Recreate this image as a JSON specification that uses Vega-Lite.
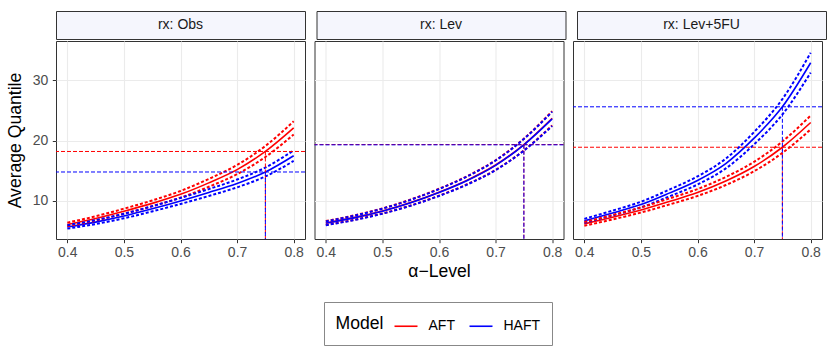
{
  "$schema": "https://vega.github.io/schema/vega-lite/v6.json",
  "padding": {"left": 5, "top": 10, "right": 8, "bottom": 9},
  "background": "white",
  "datasets": {
    "curves": [
      {"rx": "Obs", "model": "AFT", "alpha": 0.40, "q": 6.1, "lo": 5.80, "hi": 6.41},
      {"rx": "Obs", "model": "AFT", "alpha": 0.45, "q": 7.1, "lo": 6.75, "hi": 7.46},
      {"rx": "Obs", "model": "AFT", "alpha": 0.50, "q": 8.3, "lo": 7.89, "hi": 8.72},
      {"rx": "Obs", "model": "AFT", "alpha": 0.55, "q": 9.6, "lo": 9.12, "hi": 10.08},
      {"rx": "Obs", "model": "AFT", "alpha": 0.60, "q": 11.1, "lo": 10.55, "hi": 11.66},
      {"rx": "Obs", "model": "AFT", "alpha": 0.65, "q": 13.0, "lo": 12.35, "hi": 13.65},
      {"rx": "Obs", "model": "AFT", "alpha": 0.70, "q": 15.2, "lo": 14.44, "hi": 15.96},
      {"rx": "Obs", "model": "AFT", "alpha": 0.75, "q": 18.2, "lo": 17.29, "hi": 19.11},
      {"rx": "Obs", "model": "AFT", "alpha": 0.80, "q": 22.1, "lo": 21.0, "hi": 23.2},
      {"rx": "Obs", "model": "HAFT", "alpha": 0.40, "q": 5.7, "lo": 5.42, "hi": 5.99},
      {"rx": "Obs", "model": "HAFT", "alpha": 0.45, "q": 6.5, "lo": 6.18, "hi": 6.83},
      {"rx": "Obs", "model": "HAFT", "alpha": 0.50, "q": 7.5, "lo": 7.13, "hi": 7.88},
      {"rx": "Obs", "model": "HAFT", "alpha": 0.55, "q": 8.7, "lo": 8.27, "hi": 9.14},
      {"rx": "Obs", "model": "HAFT", "alpha": 0.60, "q": 10.0, "lo": 9.5, "hi": 10.5},
      {"rx": "Obs", "model": "HAFT", "alpha": 0.65, "q": 11.4, "lo": 10.83, "hi": 11.97},
      {"rx": "Obs", "model": "HAFT", "alpha": 0.70, "q": 12.9, "lo": 12.26, "hi": 13.55},
      {"rx": "Obs", "model": "HAFT", "alpha": 0.75, "q": 14.8, "lo": 14.06, "hi": 15.54},
      {"rx": "Obs", "model": "HAFT", "alpha": 0.80, "q": 17.5, "lo": 16.63, "hi": 18.38},
      {"rx": "Lev", "model": "AFT", "alpha": 0.40, "q": 6.35, "lo": 6.03, "hi": 6.67},
      {"rx": "Lev", "model": "AFT", "alpha": 0.45, "q": 7.25, "lo": 6.89, "hi": 7.61},
      {"rx": "Lev", "model": "AFT", "alpha": 0.50, "q": 8.35, "lo": 7.93, "hi": 8.77},
      {"rx": "Lev", "model": "AFT", "alpha": 0.55, "q": 9.75, "lo": 9.26, "hi": 10.24},
      {"rx": "Lev", "model": "AFT", "alpha": 0.60, "q": 11.45, "lo": 10.88, "hi": 12.02},
      {"rx": "Lev", "model": "AFT", "alpha": 0.65, "q": 13.45, "lo": 12.78, "hi": 14.12},
      {"rx": "Lev", "model": "AFT", "alpha": 0.70, "q": 15.95, "lo": 15.15, "hi": 16.75},
      {"rx": "Lev", "model": "AFT", "alpha": 0.75, "q": 19.35, "lo": 18.38, "hi": 20.32},
      {"rx": "Lev", "model": "AFT", "alpha": 0.80, "q": 23.7, "lo": 22.52, "hi": 24.89},
      {"rx": "Lev", "model": "HAFT", "alpha": 0.40, "q": 6.3, "lo": 5.99, "hi": 6.62},
      {"rx": "Lev", "model": "HAFT", "alpha": 0.45, "q": 7.2, "lo": 6.84, "hi": 7.56},
      {"rx": "Lev", "model": "HAFT", "alpha": 0.50, "q": 8.3, "lo": 7.89, "hi": 8.72},
      {"rx": "Lev", "model": "HAFT", "alpha": 0.55, "q": 9.7, "lo": 9.22, "hi": 10.19},
      {"rx": "Lev", "model": "HAFT", "alpha": 0.60, "q": 11.4, "lo": 10.83, "hi": 11.97},
      {"rx": "Lev", "model": "HAFT", "alpha": 0.65, "q": 13.4, "lo": 12.73, "hi": 14.07},
      {"rx": "Lev", "model": "HAFT", "alpha": 0.70, "q": 15.9, "lo": 15.11, "hi": 16.7},
      {"rx": "Lev", "model": "HAFT", "alpha": 0.75, "q": 19.3, "lo": 18.34, "hi": 20.27},
      {"rx": "Lev", "model": "HAFT", "alpha": 0.80, "q": 23.6, "lo": 22.42, "hi": 24.78},
      {"rx": "Lev+5FU", "model": "AFT", "alpha": 0.40, "q": 6.2, "lo": 5.89, "hi": 6.51},
      {"rx": "Lev+5FU", "model": "AFT", "alpha": 0.45, "q": 7.3, "lo": 6.94, "hi": 7.67},
      {"rx": "Lev+5FU", "model": "AFT", "alpha": 0.50, "q": 8.5, "lo": 8.08, "hi": 8.93},
      {"rx": "Lev+5FU", "model": "AFT", "alpha": 0.55, "q": 9.9, "lo": 9.41, "hi": 10.4},
      {"rx": "Lev+5FU", "model": "AFT", "alpha": 0.60, "q": 11.4, "lo": 10.83, "hi": 11.97},
      {"rx": "Lev+5FU", "model": "AFT", "alpha": 0.65, "q": 13.3, "lo": 12.64, "hi": 13.97},
      {"rx": "Lev+5FU", "model": "AFT", "alpha": 0.70, "q": 15.7, "lo": 14.92, "hi": 16.49},
      {"rx": "Lev+5FU", "model": "AFT", "alpha": 0.75, "q": 18.9, "lo": 17.96, "hi": 19.85},
      {"rx": "Lev+5FU", "model": "AFT", "alpha": 0.80, "q": 23.0, "lo": 21.85, "hi": 24.15},
      {"rx": "Lev+5FU", "model": "HAFT", "alpha": 0.40, "q": 6.7, "lo": 6.37, "hi": 7.04},
      {"rx": "Lev+5FU", "model": "HAFT", "alpha": 0.45, "q": 8.0, "lo": 7.6, "hi": 8.4},
      {"rx": "Lev+5FU", "model": "HAFT", "alpha": 0.50, "q": 9.4, "lo": 8.93, "hi": 9.87},
      {"rx": "Lev+5FU", "model": "HAFT", "alpha": 0.55, "q": 11.3, "lo": 10.74, "hi": 11.87},
      {"rx": "Lev+5FU", "model": "HAFT", "alpha": 0.60, "q": 13.4, "lo": 12.73, "hi": 14.07},
      {"rx": "Lev+5FU", "model": "HAFT", "alpha": 0.65, "q": 16.2, "lo": 15.39, "hi": 17.01},
      {"rx": "Lev+5FU", "model": "HAFT", "alpha": 0.70, "q": 20.4, "lo": 19.38, "hi": 21.42},
      {"rx": "Lev+5FU", "model": "HAFT", "alpha": 0.75, "q": 25.6, "lo": 24.32, "hi": 26.88},
      {"rx": "Lev+5FU", "model": "HAFT", "alpha": 0.80, "q": 32.9, "lo": 31.26, "hi": 34.55}
    ]
  },
  "data": {"name": "curves"},
  "config": {
    "font": "Liberation Sans",
    "view": {"stroke": "#333333", "strokeWidth": 1},
    "axis": {
      "domain": false,
      "gridColor": "#EBEBEB",
      "gridWidth": 1.1,
      "tickColor": "#333333",
      "tickSize": 3.7,
      "tickWidth": 1,
      "labelColor": "#4D4D4D",
      "labelFontSize": 14,
      "labelPadding": 3,
      "titleFontWeight": "normal",
      "titleFontSize": 17.6,
      "titleColor": "#000000"
    },
    "legend": {
      "orient": "none",
      "legendX": 268,
      "legendY": 291,
      "direction": "horizontal",
      "titleOrient": "left",
      "titleFontWeight": "normal",
      "titleFontSize": 17.6,
      "titleColor": "#000000",
      "titlePadding": 10,
      "labelFontSize": 14,
      "labelColor": "#000000",
      "labelOffset": 10,
      "symbolType": "stroke",
      "symbolSize": 529,
      "symbolStrokeWidth": 1.6,
      "columnPadding": 10,
      "strokeColor": "#888888",
      "fillColor": "white",
      "padding": 11.5
    }
  },
  "spacing": 0,
  "vconcat": [
    {
      "spacing": 9.5,
      "data": {"values": [{"lab": "rx: Obs", "p": 1}, {"lab": "rx: Lev", "p": 2}, {"lab": "rx: Lev+5FU", "p": 3}]},
      "hconcat": [
        {
          "width": 249, "height": 28,
          "view": {"fill": "#F5F6FD", "stroke": "#333333"},
          "transform": [{"filter": "datum.p == 1"}],
          "mark": {"type": "text", "fontSize": 14, "color": "#1A1A1A"},
          "encoding": {"text": {"field": "lab"}}
        },
        {
          "width": 249, "height": 28,
          "view": {"fill": "#F5F6FD", "stroke": "#333333"},
          "transform": [{"filter": "datum.p == 2"}],
          "mark": {"type": "text", "fontSize": 14, "color": "#1A1A1A"},
          "encoding": {"text": {"field": "lab"}}
        },
        {
          "width": 249, "height": 28,
          "view": {"fill": "#F5F6FD", "stroke": "#333333"},
          "transform": [{"filter": "datum.p == 3"}],
          "mark": {"type": "text", "fontSize": 14, "color": "#1A1A1A"},
          "encoding": {"text": {"field": "lab"}}
        }
      ]
    },
    {
      "spacing": 9.5,
      "bounds": "flush",
      "hconcat": [
        {
          "width": 249, "height": 198,
          "transform": [{"filter": "datum.rx == 'Obs'"}],
          "resolve": {"axis": {"x": "independent", "y": "independent"}},
          "layer": [
            {
              "mark": {"type": "line", "strokeWidth": 1.6, "interpolate": "monotone"},
              "encoding": {
                "x": {"field": "alpha", "type": "quantitative", "scale": {"domain": [0.38, 0.82], "nice": false, "zero": false},
                      "axis": {"values": [0.4, 0.5, 0.6, 0.7, 0.8], "format": ".1f", "title": null}},
                "y": {"field": "q", "type": "quantitative", "scale": {"domain": [3.7, 36.5], "nice": false, "zero": false},
                      "axis": {"values": [10, 20, 30], "title": "Average Quantile", "titlePadding": 8, "labelPadding": 4.5}},
                "color": {"field": "model", "type": "nominal", "title": "Model", "scale": {"domain": ["AFT", "HAFT"], "range": ["#FF0000", "#0000FF"]}}
              }
            },
            {
              "mark": {"type": "line", "strokeWidth": 2, "strokeDash": [3, 2], "interpolate": "monotone"},
              "encoding": {
                "x": {"field": "alpha", "type": "quantitative", "axis": {"values": [0.45, 0.55, 0.65, 0.75], "labels": false, "ticks": false, "title": null, "gridWidth": 0.55, "orient": "bottom"}},
                "y": {"field": "lo", "type": "quantitative", "axis": {"values": [5, 15, 25, 35], "labels": false, "ticks": false, "title": null, "gridWidth": 0.55, "orient": "left"}},
                "color": {"field": "model", "type": "nominal"}
              }
            },
            {
              "mark": {"type": "line", "strokeWidth": 2, "strokeDash": [3, 2], "interpolate": "monotone"},
              "encoding": {
                "x": {"field": "alpha", "type": "quantitative", "axis": null},
                "y": {"field": "hi", "type": "quantitative", "axis": null},
                "color": {"field": "model", "type": "nominal"}
              }
            },
            {
              "transform": [{"filter": "datum.alpha == 0.75"}],
              "mark": {"type": "rule", "strokeWidth": 1, "strokeDash": [4, 2]},
              "encoding": {
                "y": {"field": "q", "type": "quantitative", "axis": null},
                "color": {"field": "model", "type": "nominal"}
              }
            },
            {
              "transform": [{"filter": "datum.alpha == 0.75"}],
              "mark": {"type": "rule", "strokeWidth": 1, "strokeDash": [4, 2]},
              "encoding": {
                "x": {"field": "alpha", "type": "quantitative", "axis": null},
                "y": {"field": "q", "type": "quantitative", "axis": null},
                "y2": {"datum": 3.7},
                "color": {"field": "model", "type": "nominal"}
              }
            }
          ]
        },
        {
          "width": 249, "height": 198,
          "transform": [{"filter": "datum.rx == 'Lev'"}],
          "resolve": {"axis": {"x": "independent", "y": "independent"}},
          "layer": [
            {
              "mark": {"type": "line", "strokeWidth": 1.6, "interpolate": "monotone"},
              "encoding": {
                "x": {"field": "alpha", "type": "quantitative", "scale": {"domain": [0.38, 0.82], "nice": false, "zero": false},
                      "axis": {"values": [0.4, 0.5, 0.6, 0.7, 0.8], "format": ".1f", "title": "α−Level", "titlePadding": 3}},
                "y": {"field": "q", "type": "quantitative", "scale": {"domain": [3.7, 36.5], "nice": false, "zero": false},
                      "axis": {"values": [10, 20, 30], "labels": false, "ticks": false, "title": null}},
                "color": {"field": "model", "type": "nominal", "title": "Model", "scale": {"domain": ["AFT", "HAFT"], "range": ["#FF0000", "#0000FF"]}}
              }
            },
            {
              "mark": {"type": "line", "strokeWidth": 2, "strokeDash": [3, 2], "interpolate": "monotone"},
              "encoding": {
                "x": {"field": "alpha", "type": "quantitative", "axis": {"values": [0.45, 0.55, 0.65, 0.75], "labels": false, "ticks": false, "title": null, "gridWidth": 0.55, "orient": "bottom"}},
                "y": {"field": "lo", "type": "quantitative", "axis": {"values": [5, 15, 25, 35], "labels": false, "ticks": false, "title": null, "gridWidth": 0.55, "orient": "left"}},
                "color": {"field": "model", "type": "nominal"}
              }
            },
            {
              "mark": {"type": "line", "strokeWidth": 2, "strokeDash": [3, 2], "interpolate": "monotone"},
              "encoding": {
                "x": {"field": "alpha", "type": "quantitative", "axis": null},
                "y": {"field": "hi", "type": "quantitative", "axis": null},
                "color": {"field": "model", "type": "nominal"}
              }
            },
            {
              "transform": [{"filter": "datum.alpha == 0.75"}],
              "mark": {"type": "rule", "strokeWidth": 1, "strokeDash": [4, 2]},
              "encoding": {
                "y": {"field": "q", "type": "quantitative", "axis": null},
                "color": {"field": "model", "type": "nominal"}
              }
            },
            {
              "transform": [{"filter": "datum.alpha == 0.75"}],
              "mark": {"type": "rule", "strokeWidth": 1, "strokeDash": [4, 2]},
              "encoding": {
                "x": {"field": "alpha", "type": "quantitative", "axis": null},
                "y": {"field": "q", "type": "quantitative", "axis": null},
                "y2": {"datum": 3.7},
                "color": {"field": "model", "type": "nominal"}
              }
            }
          ]
        },
        {
          "width": 249, "height": 198,
          "transform": [{"filter": "datum.rx == 'Lev+5FU'"}],
          "resolve": {"axis": {"x": "independent", "y": "independent"}},
          "layer": [
            {
              "mark": {"type": "line", "strokeWidth": 1.6, "interpolate": "monotone"},
              "encoding": {
                "x": {"field": "alpha", "type": "quantitative", "scale": {"domain": [0.38, 0.82], "nice": false, "zero": false},
                      "axis": {"values": [0.4, 0.5, 0.6, 0.7, 0.8], "format": ".1f", "title": null}},
                "y": {"field": "q", "type": "quantitative", "scale": {"domain": [3.7, 36.5], "nice": false, "zero": false},
                      "axis": {"values": [10, 20, 30], "labels": false, "ticks": false, "title": null}},
                "color": {"field": "model", "type": "nominal", "title": "Model", "scale": {"domain": ["AFT", "HAFT"], "range": ["#FF0000", "#0000FF"]}}
              }
            },
            {
              "mark": {"type": "line", "strokeWidth": 2, "strokeDash": [3, 2], "interpolate": "monotone"},
              "encoding": {
                "x": {"field": "alpha", "type": "quantitative", "axis": {"values": [0.45, 0.55, 0.65, 0.75], "labels": false, "ticks": false, "title": null, "gridWidth": 0.55, "orient": "bottom"}},
                "y": {"field": "lo", "type": "quantitative", "axis": {"values": [5, 15, 25, 35], "labels": false, "ticks": false, "title": null, "gridWidth": 0.55, "orient": "left"}},
                "color": {"field": "model", "type": "nominal"}
              }
            },
            {
              "mark": {"type": "line", "strokeWidth": 2, "strokeDash": [3, 2], "interpolate": "monotone"},
              "encoding": {
                "x": {"field": "alpha", "type": "quantitative", "axis": null},
                "y": {"field": "hi", "type": "quantitative", "axis": null},
                "color": {"field": "model", "type": "nominal"}
              }
            },
            {
              "transform": [{"filter": "datum.alpha == 0.75"}],
              "mark": {"type": "rule", "strokeWidth": 1, "strokeDash": [4, 2]},
              "encoding": {
                "y": {"field": "q", "type": "quantitative", "axis": null},
                "color": {"field": "model", "type": "nominal"}
              }
            },
            {
              "transform": [{"filter": "datum.alpha == 0.75"}],
              "mark": {"type": "rule", "strokeWidth": 1, "strokeDash": [4, 2]},
              "encoding": {
                "x": {"field": "alpha", "type": "quantitative", "axis": null},
                "y": {"field": "q", "type": "quantitative", "axis": null},
                "y2": {"datum": 3.7},
                "color": {"field": "model", "type": "nominal"}
              }
            }
          ]
        }
      ]
    }
  ]
}
